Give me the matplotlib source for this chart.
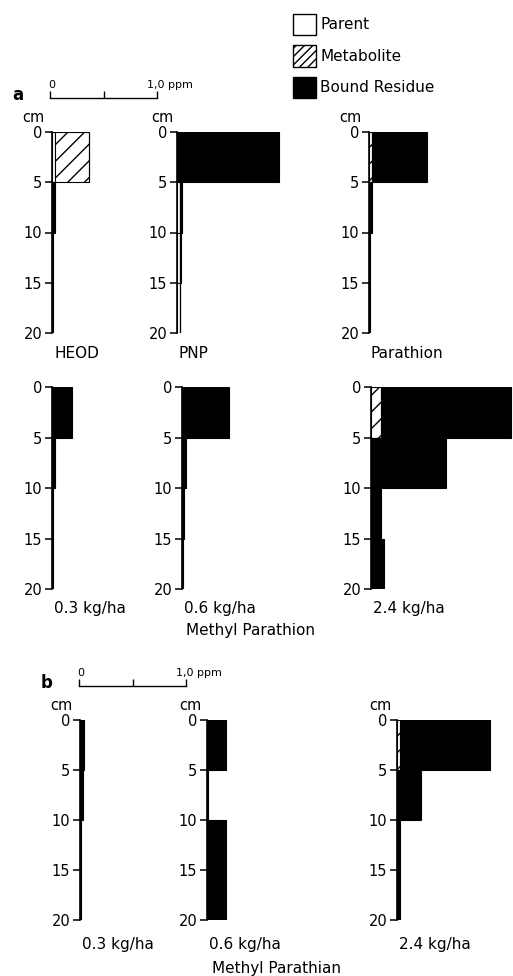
import matplotlib
matplotlib.use("Agg")
import matplotlib.pyplot as plt
from matplotlib.patches import Patch

# depth bins (cm) and residue values (ppm)
depth_top = [0, 5, 10, 15]
depth_ticks = [0, 5, 10, 15, 20]

heod_parent = [0.03, 0, 0, 0]
heod_metab = [0.32, 0, 0, 0]
heod_bound = [0, 0.03, 0.01, 0.01]

pnp_parent = [0, 0.03, 0.03, 0.03]
pnp_metab = [0, 0, 0, 0]
pnp_bound = [0.95, 0.02, 0.01, 0]

para_parent = [0, 0, 0, 0]
para_metab = [0.03, 0, 0, 0]
para_bound = [0.51, 0.03, 0.01, 0.01]

mpa03_bound = [0.19, 0.03, 0.005, 0.005]
mpa06_bound = [0.44, 0.04, 0.02, 0.01]
mpa24_metab = [0.09, 0, 0, 0]
mpa24_bound = [1.22, 0.70, 0.09, 0.12]

mpb03_bound = [0.04, 0.03, 0.005, 0.005]
mpb06_bound = [0.18, 0.005, 0.18, 0.18]
mpb24_metab = [0.03, 0, 0, 0]
mpb24_bound = [0.84, 0.22, 0.03, 0.03]

zeros = [0, 0, 0, 0]

W, H = 513, 976
PPM = 107.0  # pixels per 1.0 ppm
plt.rcParams["font.family"] = ["DejaVu Sans"]
fig = plt.figure(figsize=(W / 100, H / 100), dpi=100)


def fx(x):
    return x / W


def fy(y):
    return 1 - y / H


def panel(x0, y0, y20, parent, metab, bound, label, ly):
    wpx = 150
    ax = fig.add_axes([fx(x0), fy(y20), wpx / W, (y20 - y0) / H])
    ax.set_facecolor("none")
    left = [0] * 4
    ax.barh(depth_top, parent, height=5, left=left, align="edge",
            color="white", edgecolor="black", linewidth=0.8)
    left = [a + b for a, b in zip(left, parent)]
    ax.barh(depth_top, metab, height=5, left=left, align="edge",
            color="white", edgecolor="black", linewidth=0.8, hatch="//")
    left = [a + b for a, b in zip(left, metab)]
    ax.barh(depth_top, bound, height=5, left=left, align="edge",
            color="black", edgecolor="black", linewidth=0.8)
    ax.set_xlim(0, wpx / PPM)
    ax.set_ylim(20, 0)
    ax.set_yticks(depth_ticks)
    ax.set_yticklabels([str(t) for t in depth_ticks], fontsize=10.5)
    ax.tick_params(axis="y", length=5, width=1.1, pad=2)
    ax.set_xticks([])
    for s in ["top", "right", "bottom"]:
        ax.spines[s].set_visible(False)
    ax.spines["left"].set_linewidth(1.2)
    fig.text(fx(x0 + 2), fy(ly), label, fontsize=11, ha="left", va="center")
    return ax


def scalebar(x0, y, letter):
    ax = fig.add_axes([fx(x0), fy(y), PPM / W, 4 / H])
    ax.set_facecolor("none")
    ax.set_xlim(0, 1.0)
    ax.set_ylim(0, 1)
    ax.set_xticks([0, 0.5, 1.0])
    ax.set_xticklabels([])
    ax.set_yticks([])
    ax.tick_params(axis="x", direction="in", length=5, width=1)
    for s in ["top", "right", "left"]:
        ax.spines[s].set_visible(False)
    ax.spines["bottom"].set_linewidth(1)
    fig.text(fx(x0 - 2), fy(y - 13), "0", fontsize=8, ha="left", va="center")
    fig.text(fx(x0 + PPM - 10), fy(y - 13), "1,0 ppm", fontsize=8,
             ha="left", va="center")
    fig.text(fx(x0 - 38), fy(y - 3), letter, fontsize=12, fontweight="bold",
             ha="left", va="center")


# panel a
scalebar(50, 98, "a")
for x, t in [(33, "cm"), (162, "cm"), (350, "cm")]:
    fig.text(fx(x), fy(118), t, fontsize=10.5, ha="center", va="center")

panel(52, 132, 333, heod_parent, heod_metab, heod_bound, "HEOD", 353)
panel(177, 132, 333, pnp_parent, pnp_metab, pnp_bound, "PNP", 353)
panel(369, 132, 333, para_parent, para_metab, para_bound, "Parathion", 353)

panel(52, 387, 589, zeros, zeros, mpa03_bound, "0.3 kg/ha", 608)
panel(182, 387, 589, zeros, zeros, mpa06_bound, "0.6 kg/ha", 608)
panel(371, 387, 589, zeros, mpa24_metab, mpa24_bound, "2.4 kg/ha", 608)
fig.text(fx(250), fy(631), "Methyl Parathion", fontsize=11, ha="center",
         va="center")

# panel b
scalebar(79, 686, "b")
for x, t in [(61, "cm"), (190, "cm"), (380, "cm")]:
    fig.text(fx(x), fy(705), t, fontsize=10.5, ha="center", va="center")

panel(80, 720, 920, zeros, zeros, mpb03_bound, "0.3 kg/ha", 945)
panel(207, 720, 920, zeros, zeros, mpb06_bound, "0.6 kg/ha", 945)
panel(397, 720, 920, zeros, mpb24_metab, mpb24_bound, "2.4 kg/ha", 945)
fig.text(fx(277), fy(968), "Methyl Parathian", fontsize=11, ha="center",
         va="center")

# legend
handles = [
    Patch(facecolor="white", edgecolor="black", linewidth=1, label="Parent"),
    Patch(facecolor="white", edgecolor="black", linewidth=1, hatch="////",
          label="Metabolite"),
    Patch(facecolor="black", edgecolor="black", label="Bound Residue"),
]
fig.legend(handles=handles, loc="upper left", bbox_to_anchor=(fx(285), fy(6)),
           frameon=False, fontsize=11, handlelength=1.5, handleheight=1.8,
           handletextpad=0.3, labelspacing=0.65, borderpad=0)

fig.savefig("out.png", dpi=100)
